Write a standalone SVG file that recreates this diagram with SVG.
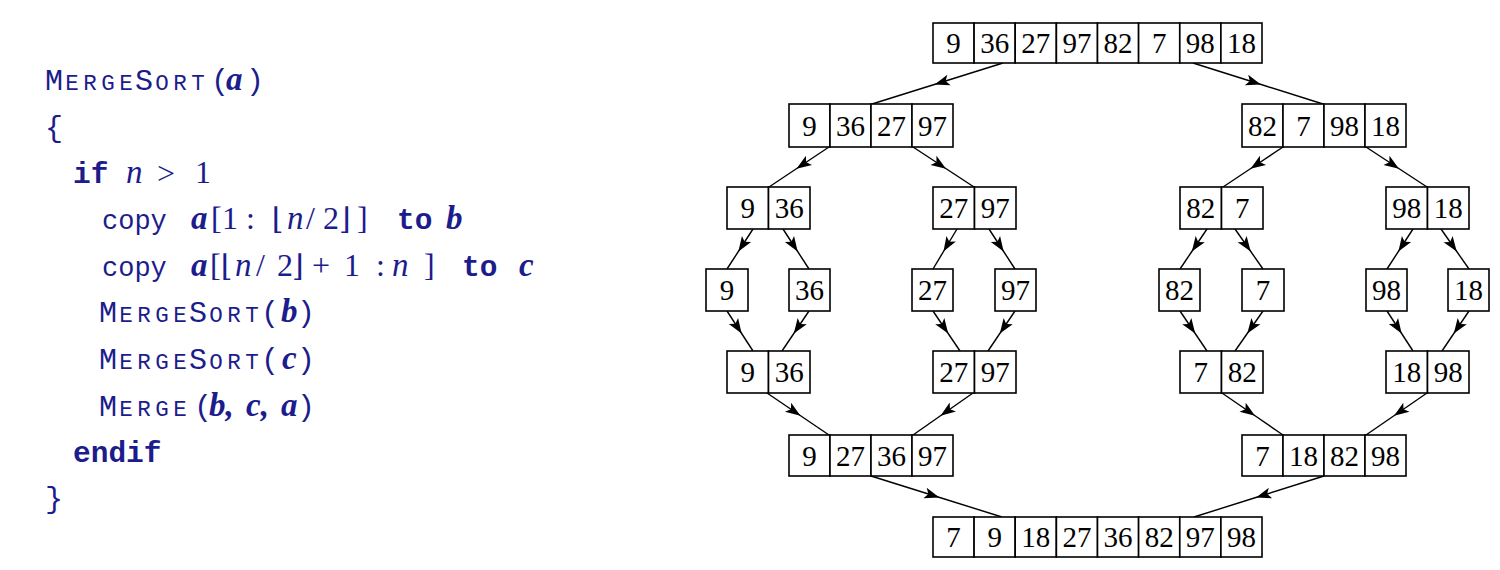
<svg xmlns="http://www.w3.org/2000/svg" width="1500" height="570" viewBox="0 0 1500 570">
<style>
.bg{fill:#fff}
.cell{fill:#fff;stroke:#000;stroke-width:1.6}
.num{font-family:"Liberation Serif",serif;font-size:29px;fill:#000;text-anchor:middle}
.con{fill:none;stroke:#000;stroke-width:1.4;marker-mid:url(#ah)}
.code{fill:#1c1c8c}
.tt{font-family:"Liberation Mono",monospace;font-size:30px}
.sc{font-size:22.5px}
.ttb{font-family:"Liberation Mono",monospace;font-weight:bold;font-size:29.5px}
.tl{font-family:"Liberation Mono",monospace;font-size:27px}
.rm{font-family:"Liberation Serif",serif;font-size:32px}
.it{font-family:"Liberation Serif",serif;font-style:italic;font-size:33px}
.bi{font-family:"Liberation Serif",serif;font-style:italic;font-weight:bold;font-size:33px}
.fl{font-family:"DejaVu Serif",serif;font-size:30px}
</style>
<defs>
<marker id="ah" markerUnits="userSpaceOnUse" viewBox="-17 -7 18 14" refX="-3" refY="0" markerWidth="18" markerHeight="14" orient="auto">
<path d="M0,0 L-15,-5.5 L-11.5,0 L-15,5.5 Z" fill="#000"/>
</marker>
</defs>
<rect class="bg" x="0" y="0" width="1500" height="570"/>

<g id="code" class="code">
<text class="tt" y="90"><tspan x="45">M</tspan><tspan class="sc" x="65.25 83.25 101.25 119.25">ERGE</tspan><tspan x="135">S</tspan><tspan class="sc" x="155.25 173.25 191.25">ORT</tspan><tspan x="211">(</tspan></text>
<text class="bi" x="226" y="90">a</text>
<text class="tt" x="246" y="90">)</text>
<text class="tt" x="45" y="137">{</text>
<text class="ttb" x="73" y="183">if</text>
<text class="it" x="126" y="183">n</text>
<text class="rm" x="157" y="184" font-size="37">&gt;</text>
<text class="rm" x="195" y="183">1</text>

<text class="tl" x="102" y="229">copy</text>
<text class="bi" x="191" y="229">a</text>
<text class="rm" x="211" y="229">[</text>
<text class="rm" x="222" y="229">1</text>
<text class="rm" x="246" y="229">:</text>
<text class="fl" x="272" y="229">⌊</text>
<text class="it" x="287" y="229">n</text>
<text class="rm" x="306" y="229">/</text>
<text class="rm" x="323" y="229">2</text>
<text class="fl" x="339" y="229">⌋</text>
<text class="rm" x="357" y="229">]</text>
<text class="ttb" x="397" y="229">to</text>
<text class="bi" x="446" y="229">b</text>

<text class="tl" x="102" y="276">copy</text>
<text class="bi" x="191" y="276">a</text>
<text class="rm" x="210" y="276">[</text>
<text class="fl" x="221" y="276">⌊</text>
<text class="it" x="235" y="276">n</text>
<text class="rm" x="256" y="276">/</text>
<text class="rm" x="277" y="276">2</text>
<text class="fl" x="292" y="276">⌋</text>
<text class="rm" x="312" y="276">+</text>
<text class="rm" x="344" y="276">1</text>
<text class="rm" x="376" y="276">:</text>
<text class="it" x="392" y="276">n</text>
<text class="rm" x="424" y="276">]</text>
<text class="ttb" x="462" y="276">to</text>
<text class="bi" x="519" y="276">c</text>

<text class="tt" y="322"><tspan x="99">M</tspan><tspan class="sc" x="119.25 137.25 155.25 173.25">ERGE</tspan><tspan x="189">S</tspan><tspan class="sc" x="209.25 227.25 245.25">ORT</tspan><tspan x="261">(</tspan></text>
<text class="bi" x="281" y="322">b</text>
<text class="tt" x="297" y="322">)</text>

<text class="tt" y="369"><tspan x="99">M</tspan><tspan class="sc" x="119.25 137.25 155.25 173.25">ERGE</tspan><tspan x="189">S</tspan><tspan class="sc" x="209.25 227.25 245.25">ORT</tspan><tspan x="261">(</tspan></text>
<text class="bi" x="282" y="369">c</text>
<text class="tt" x="297" y="369">)</text>

<text class="tt" y="416"><tspan x="99">M</tspan><tspan class="sc" x="119.25 137.25 155.25 173.25">ERGE</tspan><tspan x="194">(</tspan></text>
<text class="bi" x="209" y="416">b,</text>
<text class="bi" x="246" y="416">c,</text>
<text class="bi" x="281" y="416">a</text>
<text class="tt" x="297" y="416">)</text>

<text class="ttb" x="73" y="462">endif</text>
<text class="tt" x="45" y="508">}</text>
</g>

<g id="connectors">
<path class="con" d="M1003,63 L937.5,83.5 L872,104"/>
<path class="con" d="M1193,63 L1258,83.5 L1323,104"/>
<path class="con" d="M829,147 L799,167 L769,187"/>
<path class="con" d="M913,147 L943.5,167 L974,187"/>
<path class="con" d="M1283,147 L1253,167 L1223,187"/>
<path class="con" d="M1366,147 L1396.5,167 L1427,187"/>
<path class="con" d="M753,229 L740,249 L727,269"/>
<path class="con" d="M783,229 L796,249 L809,269"/>
<path class="con" d="M957,229 L945,249 L933,269"/>
<path class="con" d="M989,229 L1002,249 L1015,269"/>
<path class="con" d="M1207,229 L1193.5,249 L1180,269"/>
<path class="con" d="M1235,229 L1249,249 L1263,269"/>
<path class="con" d="M1413,229 L1400,249 L1387,269"/>
<path class="con" d="M1441,229 L1455,249 L1469,269"/>
<path class="con" d="M727,311 L740,331 L753,351"/>
<path class="con" d="M809,311 L795.5,331 L782,351"/>
<path class="con" d="M933,311 L946.5,331 L960,351"/>
<path class="con" d="M1015,311 L1001.5,331 L988,351"/>
<path class="con" d="M1180,311 L1193.5,331 L1207,351"/>
<path class="con" d="M1263,311 L1249,331 L1235,351"/>
<path class="con" d="M1387,311 L1400,331 L1413,351"/>
<path class="con" d="M1469,311 L1455.5,331 L1442,351"/>
<path class="con" d="M767,393 L798,414 L829,435"/>
<path class="con" d="M973,393 L943,414 L913,435"/>
<path class="con" d="M1222,393 L1252.5,414 L1283,435"/>
<path class="con" d="M1427,393 L1396.5,414 L1366,435"/>
<path class="con" d="M871,476 L936.5,496.5 L1002,517"/>
<path class="con" d="M1324,476 L1259,496.5 L1194,517"/>
</g>

<g id="n1">
<rect class="cell" x="933" y="23" width="41.1" height="40"/><rect class="cell" x="974.1" y="23" width="41.1" height="40"/><rect class="cell" x="1015.2" y="23" width="41.1" height="40"/><rect class="cell" x="1056.4" y="23" width="41.1" height="40"/><rect class="cell" x="1097.5" y="23" width="41.1" height="40"/><rect class="cell" x="1138.6" y="23" width="41.1" height="40"/><rect class="cell" x="1179.8" y="23" width="41.1" height="40"/><rect class="cell" x="1220.9" y="23" width="41.1" height="40"/>
<text class="num" y="52.5"><tspan x="953.5">9</tspan><tspan x="994.7">36</tspan><tspan x="1035.8">27</tspan><tspan x="1076.9">97</tspan><tspan x="1118">82</tspan><tspan x="1159.2">7</tspan><tspan x="1200.3">98</tspan><tspan x="1241.4">18</tspan></text>
</g>

<g id="n2a">
<rect class="cell" x="789" y="104" width="41" height="43"/><rect class="cell" x="830" y="104" width="41" height="43"/><rect class="cell" x="871" y="104" width="41" height="43"/><rect class="cell" x="912" y="104" width="41" height="43"/>
<text class="num" y="135.5"><tspan x="809.5">9</tspan><tspan x="850.5">36</tspan><tspan x="891.5">27</tspan><tspan x="932.5">97</tspan></text>
</g>
<g id="n2b">
<rect class="cell" x="1242" y="104" width="41" height="43"/><rect class="cell" x="1283" y="104" width="41" height="43"/><rect class="cell" x="1324" y="104" width="41" height="43"/><rect class="cell" x="1365" y="104" width="41" height="43"/>
<text class="num" y="135.5"><tspan x="1262.5">82</tspan><tspan x="1303.5">7</tspan><tspan x="1344.5">98</tspan><tspan x="1385.5">18</tspan></text>
</g>

<g id="n3a">
<rect class="cell" x="727" y="187" width="41.5" height="42"/><rect class="cell" x="768.5" y="187" width="41.5" height="42"/>
<text class="num" y="217.5"><tspan x="747.8">9</tspan><tspan x="789.3">36</tspan></text>
</g>
<g id="n3b">
<rect class="cell" x="933" y="187" width="41.5" height="42"/><rect class="cell" x="974.5" y="187" width="41.5" height="42"/>
<text class="num" y="217.5"><tspan x="953.8">27</tspan><tspan x="995.3">97</tspan></text>
</g>
<g id="n3c">
<rect class="cell" x="1180" y="187" width="41.5" height="42"/><rect class="cell" x="1221.5" y="187" width="41.5" height="42"/>
<text class="num" y="217.5"><tspan x="1200.8">82</tspan><tspan x="1242.3">7</tspan></text>
</g>
<g id="n3d">
<rect class="cell" x="1386" y="187" width="41.5" height="42"/><rect class="cell" x="1427.5" y="187" width="41.5" height="42"/>
<text class="num" y="217.5"><tspan x="1406.8">98</tspan><tspan x="1448.3">18</tspan></text>
</g>

<g id="n4a"><rect class="cell" x="706" y="269" width="42" height="42"/><text class="num" x="727" y="299.5">9</text></g>
<g id="n4b"><rect class="cell" x="789" y="269" width="41" height="42"/><text class="num" x="809.5" y="299.5">36</text></g>
<g id="n4c"><rect class="cell" x="912" y="269" width="41" height="42"/><text class="num" x="932.5" y="299.5">27</text></g>
<g id="n4d"><rect class="cell" x="995" y="269" width="41" height="42"/><text class="num" x="1015.5" y="299.5">97</text></g>
<g id="n4e"><rect class="cell" x="1159" y="269" width="41" height="42"/><text class="num" x="1179.5" y="299.5">82</text></g>
<g id="n4f"><rect class="cell" x="1242" y="269" width="42" height="42"/><text class="num" x="1263" y="299.5">7</text></g>
<g id="n4g"><rect class="cell" x="1366" y="269" width="41" height="42"/><text class="num" x="1386.5" y="299.5">98</text></g>
<g id="n4h"><rect class="cell" x="1448" y="269" width="41" height="42"/><text class="num" x="1468.5" y="299.5">18</text></g>

<g id="n5a">
<rect class="cell" x="727" y="351" width="41.5" height="42"/><rect class="cell" x="768.5" y="351" width="41.5" height="42"/>
<text class="num" y="381.5"><tspan x="747.8">9</tspan><tspan x="789.3">36</tspan></text>
</g>
<g id="n5b">
<rect class="cell" x="933" y="351" width="41.5" height="42"/><rect class="cell" x="974.5" y="351" width="41.5" height="42"/>
<text class="num" y="381.5"><tspan x="953.8">27</tspan><tspan x="995.3">97</tspan></text>
</g>
<g id="n5c">
<rect class="cell" x="1180" y="351" width="41.5" height="42"/><rect class="cell" x="1221.5" y="351" width="41.5" height="42"/>
<text class="num" y="381.5"><tspan x="1200.8">7</tspan><tspan x="1242.3">82</tspan></text>
</g>
<g id="n5d">
<rect class="cell" x="1386" y="351" width="41.5" height="42"/><rect class="cell" x="1427.5" y="351" width="41.5" height="42"/>
<text class="num" y="381.5"><tspan x="1406.8">18</tspan><tspan x="1448.3">98</tspan></text>
</g>

<g id="n6a">
<rect class="cell" x="789" y="435" width="41" height="41"/><rect class="cell" x="830" y="435" width="41" height="41"/><rect class="cell" x="871" y="435" width="41" height="41"/><rect class="cell" x="912" y="435" width="41" height="41"/>
<text class="num" y="465.5"><tspan x="809.5">9</tspan><tspan x="850.5">27</tspan><tspan x="891.5">36</tspan><tspan x="932.5">97</tspan></text>
</g>
<g id="n6b">
<rect class="cell" x="1242" y="435" width="41" height="41"/><rect class="cell" x="1283" y="435" width="41" height="41"/><rect class="cell" x="1324" y="435" width="41" height="41"/><rect class="cell" x="1365" y="435" width="41" height="41"/>
<text class="num" y="465.5"><tspan x="1262.5">7</tspan><tspan x="1303.5">18</tspan><tspan x="1344.5">82</tspan><tspan x="1385.5">98</tspan></text>
</g>

<g id="n7">
<rect class="cell" x="933" y="517" width="41.1" height="40"/><rect class="cell" x="974.1" y="517" width="41.1" height="40"/><rect class="cell" x="1015.2" y="517" width="41.1" height="40"/><rect class="cell" x="1056.4" y="517" width="41.1" height="40"/><rect class="cell" x="1097.5" y="517" width="41.1" height="40"/><rect class="cell" x="1138.6" y="517" width="41.1" height="40"/><rect class="cell" x="1179.8" y="517" width="41.1" height="40"/><rect class="cell" x="1220.9" y="517" width="41.1" height="40"/>
<text class="num" y="546.5"><tspan x="953.5">7</tspan><tspan x="994.7">9</tspan><tspan x="1035.8">18</tspan><tspan x="1076.9">27</tspan><tspan x="1118">36</tspan><tspan x="1159.2">82</tspan><tspan x="1200.3">97</tspan><tspan x="1241.4">98</tspan></text>
</g>
</svg>
